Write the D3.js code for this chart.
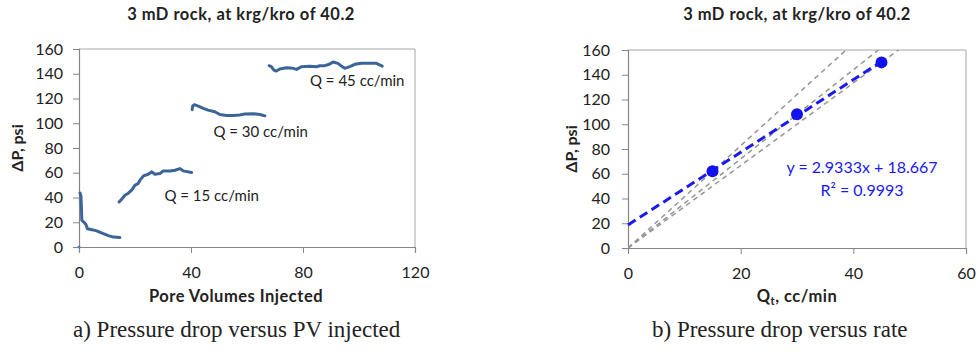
<!DOCTYPE html>
<html>
<head>
<meta charset="utf-8">
<script src="https://cdn.jsdelivr.net/npm/d3@7"></script>
<style>
  body { margin: 0; background: #fff; }
  text { font-family: Lato, "Noto Sans", sans-serif; fill: #222; }
  .caption { font-family: "Liberation Serif", "Times New Roman", serif; }
</style>
</head>
<body>
<div id="chart"></div>
<script>
const W = 978, H = 353;
const title = "3 mD rock, at krg/kro of 40.2";

// panel a: pressure drop traces (PV injected, dP psi)
const trace0 = [[0.36,43.7],[0.7,41],[0.9,30],[1,21.6],[2,19.5],[2.5,18],[3,14.8],[5,13.8],[6.3,13],[8.7,10.8],[10.5,9.2],[12.3,8],[14.6,7.6]];
const trace15 = [[14.3,36.4],[15.2,38.5],[16.4,41.8],[17.6,43.5],[18.8,45.9],[20,50],[21,51],[21.8,54],[23,57.5],[24.7,58.8],[26,60.7],[27.1,58.8],[28.9,59.4],[30.1,61.5],[32.5,61.5],[34.3,62],[36,63.4],[37.2,61.5],[40.2,60.2]];
const trace30 = [[40.4,111],[40.6,114],[41.2,115],[42.6,113.9],[44.4,112],[46.1,110.6],[48.5,109.3],[50.3,107.1],[52.7,106.3],[55,106.3],[57.4,106.6],[59.2,107.4],[62.2,107.7],[64.6,107.1],[66.4,106]];
const trace45 = [[67.9,146.5],[68.7,145.7],[69.6,143],[70.5,142.2],[71.7,143.8],[74.1,144.9],[76.5,144.4],[77.7,143.5],[79.4,145.7],[82.4,146],[84.8,145.7],[86,146.5],[87.8,146.5],[89.6,147.9],[90.7,149.5],[92.5,148.4],[93.7,146.2],[94.9,144.4],[96.7,145.7],[98.5,147.6],[100.9,148.4],[103.8,148.4],[106.2,148.4],[108.3,146.2]];
const traces = [trace0, trace15, trace30, trace45];
const traceLabels = [
  { text: "Q = 15 cc/min", x: 30.5, y: 37.5 },
  { text: "Q = 30 cc/min", x: 48, y: 89 },
  { text: "Q = 45 cc/min", x: 82.5, y: 130 }
];
const xTicksA = [0, 40, 80, 120];
const yTicks = [0, 20, 40, 60, 80, 100, 120, 140, 160];

// panel b: dP vs rate
const rates = [15, 30, 45];
const dps = [62, 108, 150];
const slope = 2.9333, intercept = 18.667, r2 = 0.9993;
const xTicksB = [0, 20, 40, 60];

const svg = d3.select("#chart").append("svg")
  .attr("width", W).attr("height", H);

function panel(opts) {
  const { left, right, top, bottom, xMax, xTicks, cx } = opts;
  const x = d3.scaleLinear().domain([0, xMax]).range([left, right]);
  const y = d3.scaleLinear().domain([0, 160]).range([bottom, top]);
  const g = svg.append("g");

  // border (top + right)
  g.append("path")
    .attr("d", `M${left},${top}H${right}V${bottom}`)
    .attr("fill", "none").attr("stroke", "#a6a6a6").attr("stroke-width", 1);

  const ya = g.append("g").attr("transform", `translate(${left},0)`)
    .call(d3.axisLeft(y).tickValues(yTicks).tickSize(6).tickPadding(opts.yPad));
  const xa = g.append("g").attr("transform", `translate(0,${bottom})`)
    .call(d3.axisBottom(x).tickValues(xTicks).tickSize(6).tickPadding(14));
  [ya, xa].forEach(a => {
    a.select(".domain").attr("stroke", "#868686").attr("stroke-width", 1.2);
    a.selectAll(".tick line").attr("stroke", "#868686");
    a.selectAll(".tick text").attr("font-size", 16).attr("fill", "#222")
      .attr("font-family", "Lato, sans-serif");
  });

  g.append("text").attr("x", cx).attr("y", 20).attr("text-anchor", "middle")
    .attr("font-size", 16.5).attr("letter-spacing", 0.5).attr("font-weight", "bold").text(title);

  g.append("text")
    .attr("transform", `translate(${opts.yLabelX},${(top + bottom) / 2}) rotate(-90)`)
    .attr("text-anchor", "middle").attr("dy", "0.35em")
    .attr("font-size", 16).attr("font-weight", "bold").text("ΔP, psi");

  return { x, y, g };
}

// ---- panel a
const A = panel({ left: 79, right: 415, top: 49, bottom: 247, xMax: 120, xTicks: xTicksA, cx: 241, yPad: 10, yLabelX: 17 });

const line = d3.line().x(d => A.x(d[0])).y(d => A.y(d[1])).curve(d3.curveLinear);
A.g.append("g").selectAll("path").data(traces).enter().append("path")
  .attr("d", line)
  .attr("fill", "none").attr("stroke", "#3c6597").attr("stroke-width", 3)
  .attr("stroke-linejoin", "round").attr("stroke-linecap", "round");

A.g.append("circle").attr("cx", A.x(0)).attr("cy", A.y(0)).attr("r", 1.6).attr("fill", "#4f81bd");

A.g.append("g").selectAll("text").data(traceLabels).enter().append("text")
  .attr("x", d => A.x(d.x)).attr("y", d => A.y(d.y))
  .attr("font-size", 15).text(d => d.text);

A.g.append("text").attr("x", 236).attr("y", 302).attr("text-anchor", "middle")
  .attr("font-size", 16.5).attr("letter-spacing", 0.5).attr("font-weight", "bold").text("Pore Volumes Injected");

// ---- panel b
const B = panel({ left: 628, right: 966, top: 50, bottom: 248, xMax: 60, xTicks: xTicksB, cx: 797, yPad: 12, yLabelX: 571 });

svg.append("clipPath").attr("id", "clipB").append("rect")
  .attr("x", 628).attr("y", 50).attr("width", 338).attr("height", 198);

// lines from origin through each point
B.g.append("g").attr("clip-path", "url(#clipB)").selectAll("line")
  .data(rates.map((r, i) => dps[i] / r)).enter().append("line")
  .attr("x1", B.x(0)).attr("y1", B.y(0))
  .attr("x2", s => B.x(60)).attr("y2", s => B.y(s * 60))
  .attr("stroke", "#959595").attr("stroke-width", 1.5).attr("stroke-dasharray", "5,4");

B.g.append("line")
  .attr("x1", B.x(0)).attr("y1", B.y(intercept))
  .attr("x2", B.x(45)).attr("y2", B.y(intercept + slope * 45))
  .attr("stroke", "#1a1aee").attr("stroke-width", 3).attr("stroke-dasharray", "9,5");

B.g.append("g").selectAll("circle").data(rates).enter().append("circle")
  .attr("cx", d => B.x(d)).attr("cy", (d, i) => B.y(dps[i])).attr("r", 6)
  .attr("fill", "#1212ee");

const eq = B.g.append("text").attr("x", 862).attr("text-anchor", "middle")
  .attr("font-size", 16).style("fill", "#1a1aee");
eq.append("tspan").attr("x", 862).attr("y", 173)
  .text(`y = ${slope}x + ${intercept}`);
eq.append("tspan").attr("x", 862).attr("y", 196).text(`R² = ${r2}`);

const xl = B.g.append("text").attr("x", 797).attr("y", 302).attr("text-anchor", "middle")
  .attr("font-size", 16.5).attr("letter-spacing", 0.5).attr("font-weight", "bold");
xl.append("tspan").text("Q");
xl.append("tspan").attr("font-size", 11).attr("dy", 3).text("t");
xl.append("tspan").attr("dy", -3).text(", cc/min");

// captions
svg.append("text").attr("class", "caption").attr("x", 73).attr("y", 337)
  .attr("font-size", 23).text("a) Pressure drop versus PV injected");
svg.append("text").attr("class", "caption").attr("x", 652).attr("y", 337)
  .attr("font-size", 23).text("b) Pressure drop versus rate");
</script>
</body>
</html>
